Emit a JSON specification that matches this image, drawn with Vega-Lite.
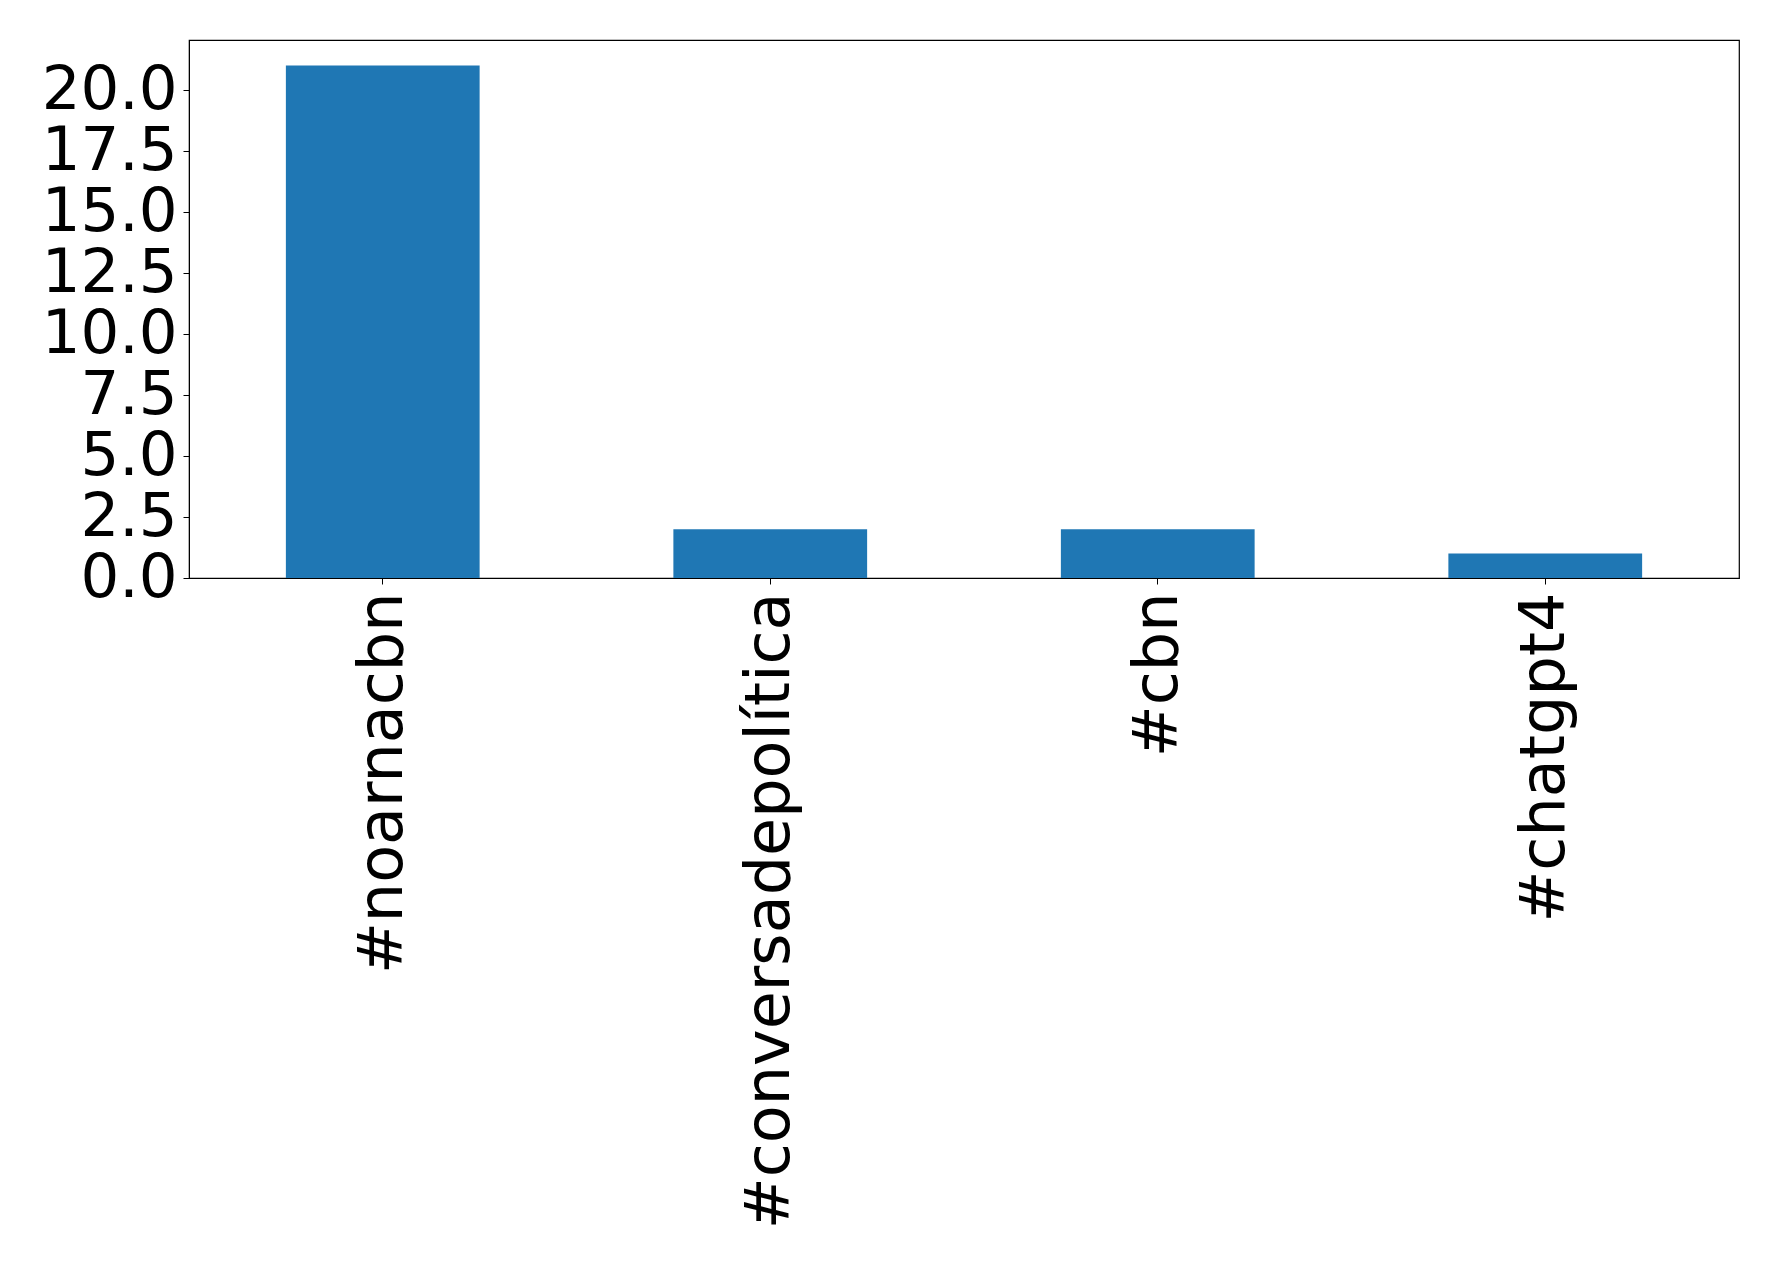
{
  "$schema": "https://vega.github.io/schema/vega-lite/v6.json",
  "autosize": {"type": "none"},
  "padding": {"left": 189, "top": 40, "right": 39, "bottom": 692},
  "width": 1550,
  "height": 538,
  "background": "white",
  "config": {
    "font": "DejaVu Sans",
    "view": {"stroke": "black", "strokeWidth": 1.2},
    "axis": {
      "grid": false,
      "domainColor": "black",
      "tickColor": "black",
      "labelColor": "black",
      "labelFont": "DejaVu Sans",
      "labelFontSize": 61,
      "tickSize": 6,
      "title": null,
      "labelOverlap": false,
      "labelBound": false
    }
  },
  "data": {
    "values": [
      {"hashtag": "#noarnacbn", "count": 21},
      {"hashtag": "#conversadepolítica", "count": 2},
      {"hashtag": "#cbn", "count": 2},
      {"hashtag": "#chatgpt4", "count": 1}
    ]
  },
  "mark": {"type": "bar", "color": "#1f77b4"},
  "encoding": {
    "x": {
      "field": "hashtag",
      "type": "nominal",
      "sort": null,
      "scale": {"paddingInner": 0.5, "paddingOuter": 0.25},
      "axis": {"labelAngle": -90, "labelPadding": 8, "labelLimit": 1000, "labelFontSize": 62}
    },
    "y": {
      "field": "count",
      "type": "quantitative",
      "scale": {"domain": [0, 22.05], "nice": false},
      "axis": {
        "values": [0, 2.5, 5, 7.5, 10, 12.5, 15, 17.5, 20],
        "format": ".1f",
        "labelPadding": 6
      }
    }
  }
}
